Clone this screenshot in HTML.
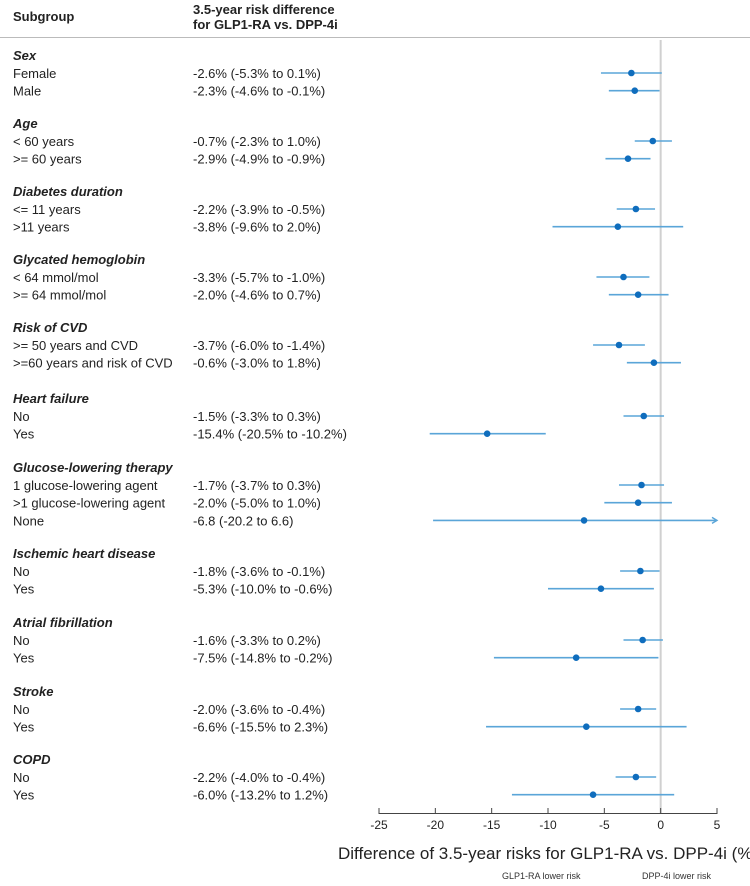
<!DOCTYPE html>
<html><head><meta charset="utf-8"><style>
body{margin:0;background:#fff;width:750px;height:881px;overflow:hidden;font-family:"Liberation Sans",Arial,sans-serif;}
svg text{font-family:"Liberation Sans",Arial,sans-serif;}
</style></head><body>
<svg id="chart" width="750" height="881" xmlns="http://www.w3.org/2000/svg">
<text x="13" y="21" font-size="13" font-weight="bold" fill="#222">Subgroup</text>
<text x="193" y="14" font-size="13" font-weight="bold" fill="#222">3.5-year risk difference</text>
<text x="193" y="29" font-size="13" font-weight="bold" fill="#222">for GLP1-RA vs. DPP-4i</text>
<line x1="0" x2="750" y1="37.5" y2="37.5" stroke="#bbb" stroke-width="1"/>
<g id="rows"></g>
<g id="marks"></g>
<g id="axis"></g>
</svg>
<script>
const groups=["Sex","Age","Diabetes duration","Glycated hemoglobin","Risk of CVD","Heart failure","Glucose-lowering therapy","Ischemic heart disease","Atrial fibrillation","Stroke","COPD"];
const groupY=[55,123,191,259,327,398,467,553,622,691,759];
const labels=[["Female","Male"],["< 60 years",">= 60 years"],["<= 11 years",">11 years"],["< 64 mmol/mol",">= 64 mmol/mol"],[">= 50 years and CVD",">=60 years and risk of CVD"],["No","Yes"],["1 glucose-lowering agent",">1 glucose-lowering agent","None"],["No","Yes"],["No","Yes"],["No","Yes"],["No","Yes"]];
const estimates=[[-2.6,-2.3],[-0.7,-2.9],[-2.2,-3.8],[-3.3,-2.0],[-3.7,-0.6],[-1.5,-15.4],[-1.7,-2.0,-6.8],[-1.8,-5.3],[-1.6,-7.5],[-2.0,-6.6],[-2.2,-6.0]];
const lower=[[-5.3,-4.6],[-2.3,-4.9],[-3.9,-9.6],[-5.7,-4.6],[-6.0,-3.0],[-3.3,-20.5],[-3.7,-5.0,-20.2],[-3.6,-10.0],[-3.3,-14.8],[-3.6,-15.5],[-4.0,-13.2]];
const upper=[[0.1,-0.1],[1.0,-0.9],[-0.5,2.0],[-1.0,0.7],[-1.4,1.8],[0.3,-10.2],[0.3,1.0,6.6],[-0.1,-0.6],[0.2,-0.2],[-0.4,2.3],[-0.4,1.2]];
const texts=[["-2.6% (-5.3% to 0.1%)","-2.3% (-4.6% to -0.1%)"],["-0.7% (-2.3% to 1.0%)","-2.9% (-4.9% to -0.9%)"],["-2.2% (-3.9% to -0.5%)","-3.8% (-9.6% to 2.0%)"],["-3.3% (-5.7% to -1.0%)","-2.0% (-4.6% to 0.7%)"],["-3.7% (-6.0% to -1.4%)","-0.6% (-3.0% to 1.8%)"],["-1.5% (-3.3% to 0.3%)","-15.4% (-20.5% to -10.2%)"],["-1.7% (-3.7% to 0.3%)","-2.0% (-5.0% to 1.0%)","-6.8 (-20.2 to 6.6)"],["-1.8% (-3.6% to -0.1%)","-5.3% (-10.0% to -0.6%)"],["-1.6% (-3.3% to 0.2%)","-7.5% (-14.8% to -0.2%)"],["-2.0% (-3.6% to -0.4%)","-6.6% (-15.5% to 2.3%)"],["-2.2% (-4.0% to -0.4%)","-6.0% (-13.2% to 1.2%)"]];
const ticks=[-25,-20,-15,-10,-5,0,5];
const xMin=-25,xMax=5,pxMin=379,pxMax=717;
const NS="http://www.w3.org/2000/svg";
function X(v){return pxMin+(v-xMin)/(xMax-xMin)*(pxMax-pxMin);}
function mk(tag,attrs,parent,txt){const e=document.createElementNS(NS,tag);for(const k in attrs)e.setAttribute(k,attrs[k]);if(txt!==undefined)e.textContent=txt;parent.appendChild(e);return e;}
const rows=document.getElementById('rows'),marks=document.getElementById('marks'),axis=document.getElementById('axis');
// zero line
const zl=mk('line',{x1:X(0),x2:X(0),y1:40,y2:813,stroke:'#d0d0d0','stroke-width':2},marks);


groups.forEach((g,gi)=>{
  const h=mk('text',{x:13,y:groupY[gi]+5,'font-size':13,'font-weight':'bold','font-style':'italic',fill:'#222'},rows,g);
  
  
  labels[gi].forEach((l,i)=>{
    const y=groupY[gi]+18+i*17.7;
    const t=mk('text',{x:13,y:y+5,'font-size':13,fill:'#222'},rows,l);
    
    
    const v=mk('text',{x:193,y:y+5,'font-size':13,fill:'#222'},rows,texts[gi][i]);
    
    
    let hi=upper[gi][i],arrow=false;
    if(hi>xMax){hi=xMax;arrow=true;}
    const ln=mk('line',{x1:X(lower[gi][i]),x2:X(hi),y1:y,y2:y,stroke:'#5aa5d8','stroke-width':1.6},marks);
    
    
    if(arrow){const a=mk('path',{d:`M${X(hi)-5},${y-3} L${X(hi)},${y} L${X(hi)-5},${y+3}`,stroke:'#5aa5d8',fill:'none','stroke-width':1.4},marks);
      
      }
    const c=mk('circle',{cx:X(estimates[gi][i]),cy:y,r:3.3,fill:'#0f6dbd'},marks);
    
    
  });
});
const al=mk('line',{x1:X(xMin),x2:X(xMax),y1:813.5,y2:813.5,stroke:'#444','stroke-width':1},axis);


ticks.forEach(t=>{
  const tk=mk('line',{x1:X(t),x2:X(t),y1:808,y2:814,stroke:'#444','stroke-width':1},axis);
  
  
  const tl=mk('text',{x:X(t),y:829,'font-size':12,'text-anchor':'middle',fill:'#222'},axis,String(t));
  
  
});
const ti=mk('text',{x:338,y:859,'font-size':17,fill:'#222'},axis,'Difference of 3.5-year risks for GLP1-RA vs. DPP-4i (%)');


const l1=mk('text',{x:502,y:879,'font-size':9,fill:'#333'},axis,'GLP1-RA lower risk');


const l2=mk('text',{x:642,y:879,'font-size':9,fill:'#333'},axis,'DPP-4i lower risk');


</script>
</body></html>
